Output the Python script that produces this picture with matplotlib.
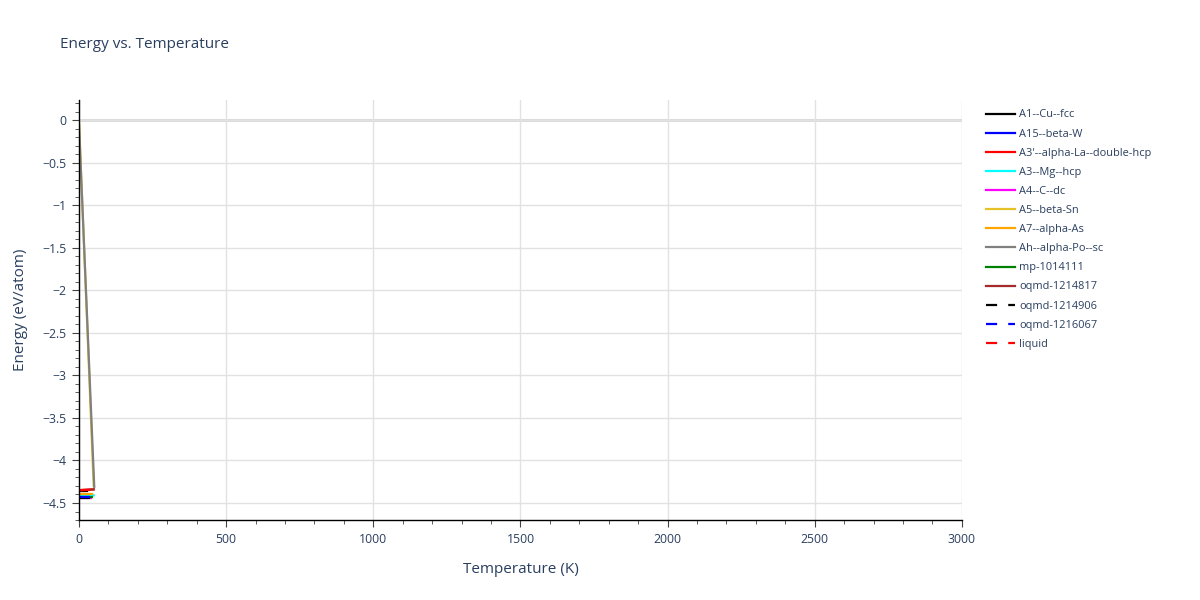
import numpy as np
import matplotlib.pyplot as plt
from matplotlib.ticker import MultipleLocator

# phase names, styles and (T, E) points
names = ["A1--Cu--fcc", "A15--beta-W", "A3'--alpha-La--double-hcp", "A3--Mg--hcp",
         "A4--C--dc", "A5--beta-Sn", "A7--alpha-As", "Ah--alpha-Po--sc",
         "mp-1014111", "oqmd-1214817", "oqmd-1214906", "oqmd-1216067", "liquid"]
colors = ["black", "blue", "red", "cyan", "magenta", "#e6c229", "orange", "grey",
          "green", "brown", "black", "blue", "red"]
dashed = [False] * 10 + [True] * 3

temps = [
    [0, 28],
    [0, 42],
    [0, 50],
    [0, 50],
    [0, 40],
    [0, 50],
    [0, 45],
    [0, 52],
    [0, 45],
    [0, 50],
    [0, 40],
    [0, 45],
    [0, 45],
]
energies = [
    [-4.36, -4.36],
    [-4.43, -4.43],
    [-4.35, -4.34],
    [-4.42, -4.41],
    [-4.44, -4.44],
    [0.0, -4.30],
    [-4.40, -4.40],
    [-0.05, -4.31],
    [-4.43, -4.43],
    [-4.35, -4.34],
    [-4.445, -4.445],
    [-4.43, -4.43],
    [-4.35, -4.35],
]

txt = "#2a3f5f"
plt.rcParams['font.family'] = ['Open Sans', 'DejaVu Sans']

fig = plt.figure(figsize=(12, 6), dpi=100)
ax = fig.add_axes([0.0658, 0.1333, 0.7358, 0.7])

for i in range(len(names)):
    ls = (0, (5, 5)) if dashed[i] else '-'
    ax.plot(temps[i], energies[i], color=colors[i], lw=1.6, ls=ls, label=names[i])

ax.set_xlim(0, 3000)
ax.set_ylim(-4.70, 0.235)
ax.xaxis.set_major_locator(MultipleLocator(500))
ax.xaxis.set_minor_locator(MultipleLocator(100))
ax.yaxis.set_major_locator(MultipleLocator(0.5))
ax.yaxis.set_minor_locator(MultipleLocator(0.1))
ax.grid(True, which='major', color='#e2e2e2', lw=1)
ax.axhline(0, color='#d6d6d6', lw=2, zorder=0.5)
ax.set_axisbelow(True)

for s in ['top', 'right']:
    ax.spines[s].set_visible(False)
for s in ['left', 'bottom']:
    ax.spines[s].set_color('black')
    ax.spines[s].set_linewidth(1)

ax.tick_params(which='major', direction='out', length=5, color='#444444',
               labelsize=8.8, labelcolor=txt, pad=4)
ax.tick_params(which='minor', direction='out', length=3, color='#444444')

def fmt(v, pos):
    if abs(v) < 1e-9:
        return "0"
    s = ("%g" % v).replace("-", "\u2212")
    return s
ax.yaxis.set_major_formatter(plt.FuncFormatter(fmt))
ax.xaxis.set_major_formatter(plt.FuncFormatter(lambda v, p: "%d" % v))

ax.set_xlabel("Temperature (K)", fontsize=11, color=txt, labelpad=12)
ax.set_ylabel("Energy (eV/atom)", fontsize=11, color=txt, labelpad=10)
fig.text(0.05, 0.925, "Energy vs. Temperature", fontsize=11, color=txt, va='center')

fig.legend(loc='upper left', bbox_to_anchor=(0.818, 0.825), frameon=False,
           fontsize=7.9, labelcolor=txt, handlelength=2.6, handletextpad=0.45,
           labelspacing=0.74, borderaxespad=0)

fig.savefig("out.png", dpi=100)
